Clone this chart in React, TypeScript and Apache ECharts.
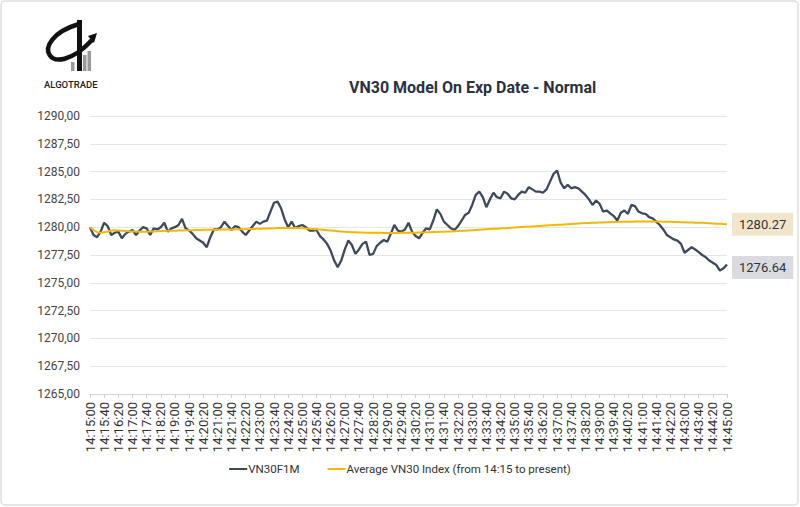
import React, { useEffect, useRef } from "react";
import * as echarts from "echarts";

// ---- data ----
const startSeconds = 14 * 3600 + 15 * 60; // 14:15:00
const stepSeconds = 10;
const pointCount = 181;
const times: string[] = [];
for (let i = 0; i < pointCount; i++) {
  const t = startSeconds + i * stepSeconds;
  const h = Math.floor(t / 3600);
  const m = Math.floor((t % 3600) / 60);
  const s = t % 60;
  times.push(`${h}:${String(m).padStart(2, "0")}:${String(s).padStart(2, "0")}`);
}

const vn30f1m: number[] = [
  1280.0, 1279.3, 1279.1, 1279.6, 1280.4, 1280.1, 1279.3, 1279.5, 1279.6, 1279.0,
  1279.4, 1279.6, 1279.75, 1279.3, 1279.7, 1280.0, 1279.9, 1279.3, 1279.9, 1279.8,
  1280.0, 1280.4, 1279.6, 1279.9, 1280.0, 1280.2, 1280.75, 1279.9, 1279.7, 1279.4,
  1279.0, 1278.8, 1278.6, 1278.2, 1279.1, 1279.8, 1279.8, 1280.0, 1280.5, 1280.1,
  1279.75, 1280.1, 1280.0, 1279.6, 1279.3, 1279.7, 1280.1, 1280.5, 1280.3, 1280.5,
  1280.6, 1281.4, 1282.2, 1282.3, 1281.7, 1280.7, 1280.0, 1280.5, 1279.9, 1280.1,
  1280.2, 1280.0, 1279.7, 1279.7, 1279.75, 1279.2, 1278.9, 1278.5, 1277.9, 1277.0,
  1276.4, 1277.0, 1278.0, 1278.8, 1278.4, 1277.6, 1278.0, 1278.5, 1278.7, 1277.5,
  1277.6, 1278.3, 1278.6, 1278.85, 1278.7, 1279.4, 1280.2, 1279.7, 1279.6, 1279.8,
  1280.4, 1279.6, 1279.2, 1279.0, 1279.5, 1279.9, 1279.8, 1280.6, 1281.6, 1281.2,
  1280.5, 1280.2, 1279.9, 1279.75, 1280.1, 1280.6, 1281.1, 1281.3, 1282.0, 1282.9,
  1283.2, 1282.7, 1281.8, 1282.5, 1283.1, 1282.7, 1282.6, 1283.2, 1283.0, 1282.6,
  1282.5, 1282.9, 1283.2, 1283.1, 1283.6, 1283.4, 1283.2, 1283.2, 1283.1, 1283.4,
  1284.1, 1284.8, 1285.1, 1284.0, 1283.5, 1283.8, 1283.5, 1283.6, 1283.5, 1283.2,
  1282.9, 1282.5, 1282.0, 1282.4, 1282.1, 1281.4, 1281.5, 1281.25, 1281.0, 1280.6,
  1281.3, 1281.5, 1281.2, 1282.0, 1281.9, 1281.4, 1281.25, 1281.2, 1280.9, 1280.8,
  1280.5, 1280.2, 1279.8, 1279.3, 1279.1, 1278.9, 1278.8, 1278.5, 1277.7, 1277.95,
  1278.2, 1278.0, 1277.75, 1277.5, 1277.3, 1277.0, 1276.8, 1276.6, 1276.1, 1276.3,
  1276.64,
];

const avgVn30: number[] = [
  1280.0, 1279.75, 1279.55, 1279.5, 1279.55, 1279.62, 1279.7,
  1279.72, 1279.7, 1279.68, 1279.66, 1279.64, 1279.62, 1279.62, 1279.6, 1279.6,
  1279.6, 1279.61, 1279.62, 1279.63, 1279.65, 1279.66, 1279.67, 1279.68, 1279.69, 1279.7,
  1279.71, 1279.72, 1279.72, 1279.73, 1279.74, 1279.75, 1279.76, 1279.76, 1279.77, 1279.78, 1279.78, 1279.79, 1279.8, 1279.8, 1279.8,
  1279.81, 1279.81, 1279.82, 1279.82, 1279.83, 1279.84, 1279.85, 1279.86, 1279.87, 1279.88, 1279.89, 1279.9, 1279.92, 1279.93, 1279.93,
  1279.93, 1279.93, 1279.92, 1279.91, 1279.9, 1279.88, 1279.86, 1279.84, 1279.82, 1279.79, 1279.76, 1279.73, 1279.7,
  1279.67, 1279.64, 1279.61, 1279.59, 1279.57, 1279.55, 1279.54, 1279.53, 1279.52, 1279.51, 1279.5, 1279.5, 1279.49, 1279.49, 1279.48, 1279.48, 1279.48,
  1279.48, 1279.48, 1279.49, 1279.49, 1279.5, 1279.5, 1279.51, 1279.52, 1279.53, 1279.54, 1279.55, 1279.56, 1279.57, 1279.58, 1279.6, 1279.61, 1279.62, 1279.64, 1279.65, 1279.67,
  1279.69, 1279.71, 1279.73, 1279.75, 1279.77, 1279.79, 1279.81, 1279.83, 1279.85, 1279.87, 1279.89, 1279.91, 1279.93, 1279.95, 1279.97, 1279.99, 1280.01, 1280.03, 1280.05, 1280.07, 1280.09, 1280.11, 1280.13, 1280.15, 1280.17,
  1280.19, 1280.21, 1280.23, 1280.25, 1280.27, 1280.29, 1280.31, 1280.33, 1280.35, 1280.37, 1280.38, 1280.4, 1280.41, 1280.42, 1280.43, 1280.44, 1280.45, 1280.46, 1280.47, 1280.48,
  1280.49, 1280.5, 1280.5, 1280.51, 1280.51, 1280.52, 1280.52, 1280.52, 1280.52, 1280.51, 1280.51, 1280.5, 1280.49, 1280.48, 1280.47,
  1280.46, 1280.45, 1280.44, 1280.43, 1280.42, 1280.41, 1280.4, 1280.39, 1280.37, 1280.36, 1280.34, 1280.32, 1280.3, 1280.28, 1280.27,
];

const seriesNames = ["VN30F1M", "Average VN30 Index (from 14:15 to present)"];
const titleText = "VN30 Model On Exp Date - Normal";
const yMin = 1265;
const yMax = 1290;
const yStep = 2.5;

const FONT = "Roboto, 'Noto Sans', sans-serif";

export default function App() {
  const ref = useRef<HTMLDivElement>(null);

  useEffect(() => {
    document.body.style.margin = "0";
    if (!ref.current) return;
    const chart = echarts.init(ref.current, null, { renderer: "svg" });

    const endLabelFmt = (p: any) => {
      const v = Array.isArray(p.value) ? p.value[p.value.length - 1] : p.value;
      return Number(v).toFixed(2);
    };

    chart.setOption({
      animation: false,
      backgroundColor: "#ffffff",
      textStyle: { fontFamily: FONT },
      title: {
        text: titleText,
        left: 344,
        top: 74,
        textStyle: { fontSize: 16, fontWeight: "bold", color: "#2b3140", fontFamily: FONT },
      },
      legend: {
        data: seriesNames,
        bottom: 27,
        left: "center",
        icon: "rect",
        itemWidth: 18,
        itemHeight: 2,
        itemGap: 28,
        textStyle: { fontSize: 11.5, color: "#333", fontFamily: FONT, padding: [0, 0, 0, -4] },
      },
      grid: { left: 90, right: 73, top: 116, bottom: 113, containLabel: false },
      xAxis: {
        type: "category",
        data: times,
        boundaryGap: false,
        axisLine: { lineStyle: { color: "#d6d6d6" } },
        axisTick: { show: true, interval: 3, alignWithLabel: true, length: 4, lineStyle: { color: "#d0d0d0" } },
        axisLabel: {
          interval: 3,
          rotate: 90,
          margin: 8,
          fontSize: 13,
          color: "#333",
          fontFamily: FONT,
        },
        splitLine: { show: false },
      },
      yAxis: {
        type: "value",
        min: yMin,
        max: yMax,
        interval: yStep,
        axisLine: { show: false },
        axisTick: { show: false },
        axisLabel: {
          fontSize: 12,
          color: "#444",
          margin: 10,
          fontFamily: FONT,
          formatter: (v: number) => v.toFixed(2).replace(".", ","),
        },
        splitLine: { lineStyle: { color: "#e6e6e6" } },
      },
      series: [
        {
          name: seriesNames[0],
          type: "line",
          data: vn30f1m,
          showSymbol: false,
          symbol: "none",
          lineStyle: { color: "#3e4a5c", width: 2.3 },
          itemStyle: { color: "#3e4a5c" },
          z: 2,
          endLabel: {
            show: true,
            formatter: endLabelFmt,
            backgroundColor: "#d9dbe0",
            color: "#333",
            fontSize: 13,
            fontFamily: FONT,
            padding: [5, 7],
            distance: 5,
            offset: [0, 3],
          },
        },
        {
          name: seriesNames[1],
          type: "line",
          data: avgVn30,
          showSymbol: false,
          symbol: "none",
          lineStyle: { color: "#f5b800", width: 2 },
          itemStyle: { color: "#f5b800" },
          z: 3,
          endLabel: {
            show: true,
            formatter: endLabelFmt,
            backgroundColor: "#f1e6cb",
            color: "#333",
            fontSize: 13,
            fontFamily: FONT,
            padding: [5, 7],
            distance: 5,
          },
        },
      ],
      graphic: [
        {
          type: "rect",
          shape: { x: 1, y: 1, width: 797, height: 504, r: 4 },
          style: { fill: "none", stroke: "#dedede", lineWidth: 1.5 },
          silent: true,
        },
        // logo: gray bars
        { type: "rect", shape: { x: 71, y: 62, width: 3.5, height: 9 }, style: { fill: "#9a9a9a" } },
        { type: "rect", shape: { x: 83, y: 55, width: 3.5, height: 16 }, style: { fill: "#9a9a9a" } },
        { type: "rect", shape: { x: 87.5, y: 51, width: 3.5, height: 20 }, style: { fill: "#9a9a9a" } },
        // vertical black bar
        { type: "rect", shape: { x: 77, y: 20, width: 5, height: 51 }, style: { fill: "#111" } },
        // swoosh
        {
          type: "bezierCurve",
          shape: { x1: 79, y1: 24, cpx1: 25, cpy1: 40, cpx2: 50, cpy2: 85, x2: 92, y2: 40 },
          style: { stroke: "#111", lineWidth: 4.5, fill: "none" },
        },
        {
          type: "polygon",
          shape: { points: [[97, 33], [88, 36], [94, 43]] },
          style: { fill: "#111" },
        },
        {
          type: "text",
          x: 44,
          y: 79,
          style: { text: "ALGOTRADE", fontSize: 9.5, fontWeight: 500, fill: "#222", fontFamily: FONT },
        },
      ],
    });

    return () => chart.dispose();
  }, []);

  return <div ref={ref} style={{ width: 800, height: 507 }} />;
}
